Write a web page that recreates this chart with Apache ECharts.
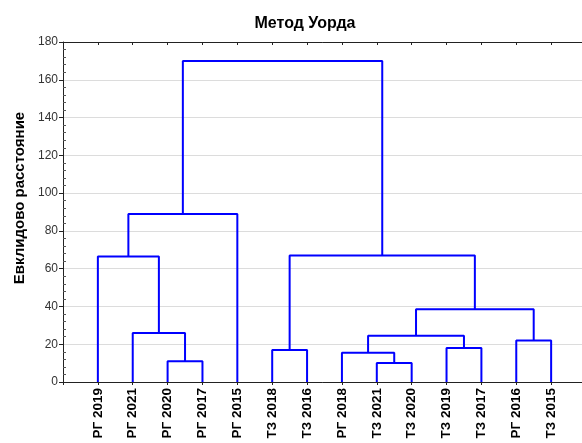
<!DOCTYPE html>
<html>
<head>
<meta charset="utf-8">
<script src="https://cdn.jsdelivr.net/npm/echarts@6/dist/echarts.min.js"></script>
<style>
  html, body { margin: 0; padding: 0; background: #fff; }
  #chart { width: 582px; height: 443px; }
</style>
</head>
<body>
<div id="chart"></div>
<script>
// leaves in dendrogram order
const leaves = ["РГ 2019", "РГ 2021", "РГ 2020", "РГ 2017", "РГ 2015",
  "ТЗ 2018", "ТЗ 2016", "РГ 2018", "ТЗ 2021", "ТЗ 2020",
  "ТЗ 2019", "ТЗ 2017", "РГ 2016", "ТЗ 2015"];
// merges: left node, right node (0..13 leaves, 14+ clusters), distance
const mergeLeft = [2, 1, 0, 16, 5, 8, 7, 10, 20, 12, 22, 18, 17];
const mergeRight = [3, 14, 15, 4, 6, 9, 19, 11, 21, 13, 23, 24, 25];
const mergeHeight = [11, 26, 66.5, 89, 17, 10, 15.5, 18, 24.5, 22, 38.5, 67, 170];
const yTicks = [0, 20, 40, 60, 80, 100, 120, 140, 160, 180];

// node position = leaf index (1-based) or midpoint of children
const nodeX = leaves.map((_, i) => i + 1);
const nodeH = leaves.map(() => 0);
const series = [];
mergeLeft.forEach((l, k) => {
  const r = mergeRight[k];
  const h = mergeHeight[k];
  series.push({
    type: "line",
    data: [[nodeX[l], nodeH[l]], [nodeX[l], h], [nodeX[r], h], [nodeX[r], nodeH[r]]],
    showSymbol: false,
    silent: true,
    lineStyle: { color: "#0000ff", width: 2 },
    z: 5
  });
  nodeX.push((nodeX[l] + nodeX[r]) / 2);
  nodeH.push(h);
});

const font = "Liberation Sans";
const chart = echarts.init(document.getElementById("chart"));
chart.setOption({
  animation: false,
  title: {
    text: "Метод Уорда",
    left: 300,
    textAlign: "center",
    top: 11,
    textStyle: { fontFamily: font, fontSize: 16, fontWeight: "bold", color: "#000" }
  },
  grid: { left: 63, top: 42, width: 523, height: 340, outerBoundsMode: "none", containLabel: false },
  xAxis: [
    {
      type: "value",
      min: 0,
      max: 15,
      interval: 1,
      position: "bottom",
      splitLine: { show: false },
      axisLine: { lineStyle: { color: "#222", width: 1 } },
      axisTick: { length: 3, lineStyle: { color: "#222" } },
      axisLabel: {
        rotate: 90,
        margin: 6,
        fontFamily: font,
        fontSize: 13.5,
        fontWeight: "bold",
        color: "#000",
        showMinLabel: true,
        showMaxLabel: true,
        formatter: v => leaves[v - 1] || ""
      }
    },
    {
      type: "value",
      min: 0,
      max: 15,
      interval: 1,
      position: "top",
      splitLine: { show: false },
      axisLine: { onZero: false, lineStyle: { color: "#222", width: 1 } },
      axisTick: { inside: true, length: 3, lineStyle: { color: "#222" } },
      axisLabel: { show: false }
    }
  ],
  yAxis: {
    type: "value",
    min: yTicks[0],
    max: yTicks[yTicks.length - 1],
    interval: 20,
    name: "Евклидово расстояние",
    nameLocation: "middle",
    nameGap: 36,
    nameTextStyle: { fontFamily: font, fontSize: 15, fontWeight: "bold", color: "#000", padding: [0, 0, 0, 28] },
    axisLine: { show: true, onZero: false, lineStyle: { color: "#222", width: 1 } },
    axisTick: { show: true, length: 4, lineStyle: { color: "#222" } },
    // minor ticks point into the plot
    minorTick: { show: true, splitNumber: 5, length: -3, lineStyle: { color: "#555" } },
    axisLabel: { margin: 5, fontFamily: font, fontSize: 12, color: "#333" },
    splitLine: { show: true, lineStyle: { color: "#dcdcdc", width: 1 } }
  },
  series: series
});
</script>
</body>
</html>
